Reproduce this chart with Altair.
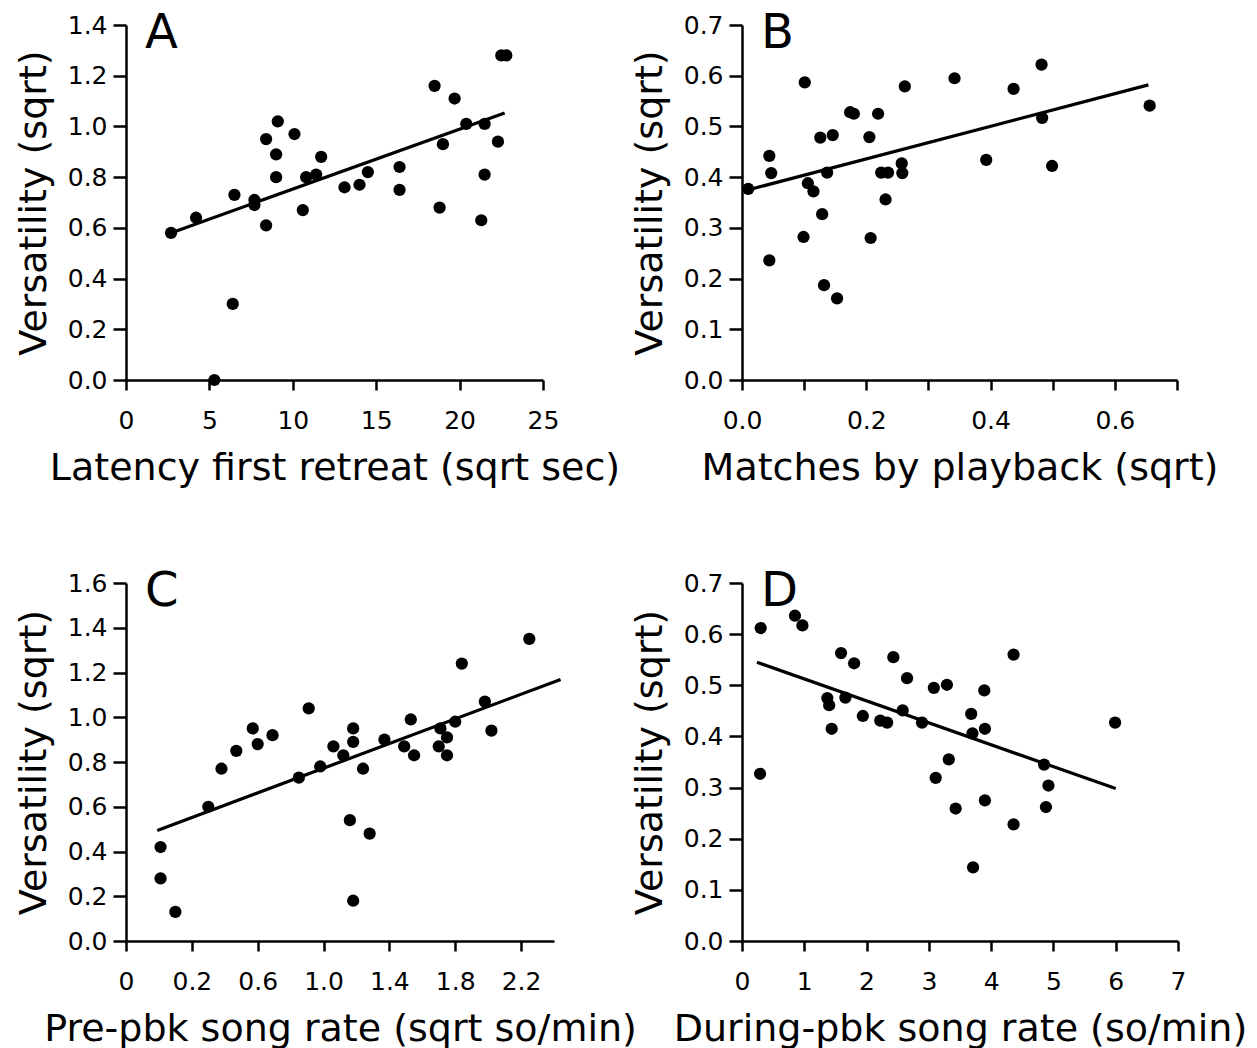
import altair as alt
import pandas as pd

# ---------------- data ----------------
# Panel A
a_x = [2.7, 4.2, 5.3, 6.4, 6.5, 7.7, 7.7, 8.4, 8.4, 9.1, 9.0, 9.0, 10.1, 10.6, 10.8, 11.4, 11.7,
       13.1, 14.0, 14.5, 16.4, 16.4, 18.5, 18.8, 19.0, 19.7, 20.4, 21.3, 21.5, 21.5, 22.3, 22.5, 22.8]
a_y = [0.58, 0.64, 0.00, 0.30, 0.73, 0.71, 0.69, 0.61, 0.95, 1.02, 0.89, 0.80, 0.97, 0.67, 0.80, 0.81, 0.88,
       0.76, 0.77, 0.82, 0.84, 0.75, 1.16, 0.68, 0.93, 1.11, 1.01, 0.63, 1.01, 0.81, 0.94, 1.28, 1.28]
a_line_x = [2.9, 22.7]
a_line_y = [0.585, 1.053]

# Panel B
b_x = [0.010, 0.044, 0.047, 0.044, 0.101, 0.099, 0.106, 0.115, 0.126, 0.129, 0.132, 0.137, 0.146, 0.153,
       0.174, 0.180, 0.205, 0.207, 0.219, 0.224, 0.235, 0.231, 0.257, 0.258, 0.262, 0.342, 0.393, 0.437,
       0.482, 0.483, 0.499, 0.656]
b_y = [0.377, 0.442, 0.408, 0.236, 0.587, 0.282, 0.388, 0.372, 0.478, 0.327, 0.187, 0.409, 0.483, 0.161,
       0.528, 0.525, 0.479, 0.280, 0.525, 0.409, 0.409, 0.356, 0.427, 0.408, 0.579, 0.595, 0.434, 0.574,
       0.622, 0.517, 0.422, 0.541]
b_line_x = [0.004, 0.654]
b_line_y = [0.373, 0.582]

# Panel C
c_x = [0.01, 0.01, 0.10, 0.30, 0.38, 0.47, 0.57, 0.60, 0.69, 0.85, 0.91, 0.98, 1.06, 1.12, 1.18, 1.18, 1.16,
       1.24, 1.28, 1.18, 1.37, 1.49, 1.53, 1.55, 1.70, 1.71, 1.75, 1.75, 1.80, 1.84, 1.98, 2.02, 2.25]
c_y = [0.42, 0.28, 0.13, 0.60, 0.77, 0.85, 0.95, 0.88, 0.92, 0.73, 1.04, 0.78, 0.87, 0.83, 0.95, 0.89, 0.54,
       0.77, 0.48, 0.18, 0.90, 0.87, 0.99, 0.83, 0.87, 0.95, 0.91, 0.83, 0.98, 1.24, 1.07, 0.94, 1.35]
c_line_x = [-0.01, 2.44]
c_line_y = [0.494, 1.169]

# Panel D
d_x = [0.30, 0.29, 0.85, 0.97, 1.37, 1.40, 1.44, 1.59, 1.66, 1.80, 1.94, 2.22, 2.33, 2.43, 2.58, 2.65, 2.89,
       3.08, 3.11, 3.29, 3.32, 3.43, 3.68, 3.70, 3.71, 3.89, 3.90, 3.90, 4.36, 4.36, 4.85, 4.92, 4.88, 5.99]
d_y = [0.612, 0.327, 0.636, 0.617, 0.475, 0.461, 0.415, 0.563, 0.476, 0.543, 0.440, 0.431, 0.427, 0.555,
       0.451, 0.514, 0.427, 0.495, 0.319, 0.501, 0.355, 0.259, 0.444, 0.406, 0.144, 0.490, 0.415, 0.275,
       0.560, 0.228, 0.345, 0.304, 0.262, 0.427]
d_line_x = [0.24, 6.0]
d_line_y = [0.545, 0.298]

# axis ticks / labels
a_xticks = [0, 5, 10, 15, 20, 25]
a_yticks = [0.0, 0.2, 0.4, 0.6, 0.8, 1.0, 1.2, 1.4]
b_xticks = [0.0, 0.1, 0.2, 0.3, 0.4, 0.5, 0.6, 0.7]
b_yticks = [0.0, 0.1, 0.2, 0.3, 0.4, 0.5, 0.6, 0.7]
c_xticks = [-0.2, 0.2, 0.6, 1.0, 1.4, 1.8, 2.2]
c_yticks = [0.0, 0.2, 0.4, 0.6, 0.8, 1.0, 1.2, 1.4, 1.6]
d_xticks = [0, 1, 2, 3, 4, 5, 6, 7]
d_yticks = [0.0, 0.1, 0.2, 0.3, 0.4, 0.5, 0.6, 0.7]

Y_TITLE = "Versatility (sqrt)"
FONT = "DejaVu Sans"


def panel(xs, ys, lx, ly, letter, xdom, ydom, xticks, yticks, xtitle, width, height,
          xfmt=None, xlabelexpr=None):
    pts = pd.DataFrame({"x": xs, "y": ys})
    ln = pd.DataFrame({"x": lx, "y": ly})
    xaxis_kw = dict(values=xticks, title=xtitle)
    if xlabelexpr:
        xaxis_kw["labelExpr"] = xlabelexpr
    if xfmt:
        xaxis_kw["format"] = xfmt
    xenc = alt.X("x:Q", scale=alt.Scale(domain=xdom, nice=False, zero=False), axis=alt.Axis(**xaxis_kw))
    yenc = alt.Y("y:Q", scale=alt.Scale(domain=ydom, nice=False, zero=False),
                 axis=alt.Axis(values=yticks, format=".1f", title=Y_TITLE))
    points = alt.Chart(pts).mark_circle(size=150, color="black", opacity=1).encode(x=xenc, y=yenc)
    line = alt.Chart(ln).mark_line(color="black", strokeWidth=3.2).encode(x=xenc, y=yenc)
    lab = alt.Chart(pd.DataFrame({"t": [letter]})).mark_text(
        align="left", baseline="alphabetic", fontSize=48, font=FONT, color="black"
    ).encode(text="t:N", x=alt.value(19), y=alt.value(23))
    return alt.layer(line, points, lab).properties(width=width, height=height)


pA = panel(a_x, a_y, a_line_x, a_line_y, "A", [0, 25], [0, 1.4], a_xticks, a_yticks,
           "Latency first retreat (sqrt sec)", 417, 355, xfmt="d")
pB = panel(b_x, b_y, b_line_x, b_line_y, "B", [0, 0.7], [0, 0.7], b_xticks, b_yticks,
           "Matches by playback (sqrt)", 435, 355,
           xlabelexpr="(round(datum.value*10) % 2 == 0 && datum.value < 0.65) ? format(datum.value, '.1f') : ''")
pC = panel(c_x, c_y, c_line_x, c_line_y, "C", [-0.2, 2.4], [0, 1.6], c_xticks, c_yticks,
           "Pre-pbk song rate (sqrt so/min)", 428, 358,
           xlabelexpr="datum.value < 0 ? '0' : format(datum.value, '.1f')")
pD = panel(d_x, d_y, d_line_x, d_line_y, "D", [0, 7], [0, 0.7], d_xticks, d_yticks,
           "During-pbk song rate (so/min)", 436, 358, xfmt="d")

chart = alt.concat(
    pA, pB, pC, pD, columns=2, spacing={"column": 188, "row": 203}, bounds="flush"
).configure_view(
    stroke=None
).configure_axis(
    grid=False,
    domainColor="black",
    domainWidth=2.5,
    tickColor="black",
    tickWidth=2.5,
    labelFont=FONT,
    labelFontSize=25,
    labelColor="black",
    labelFlush=False,
    labelOverlap=False,
    labelBound=False,
    titleFont=FONT,
    titleFontSize=38,
    titleFontWeight="normal",
    titleColor="black",
).configure_axisX(
    tickSize=10, labelPadding=18, titlePadding=16
).configure_axisY(
    tickSize=13, labelPadding=6, titlePadding=14
).properties(
    background="white", padding={"left": 15, "top": 10, "right": 5, "bottom": 5}
)

chart.save("out.html", embed_options={"renderer": "svg", "actions": False})
